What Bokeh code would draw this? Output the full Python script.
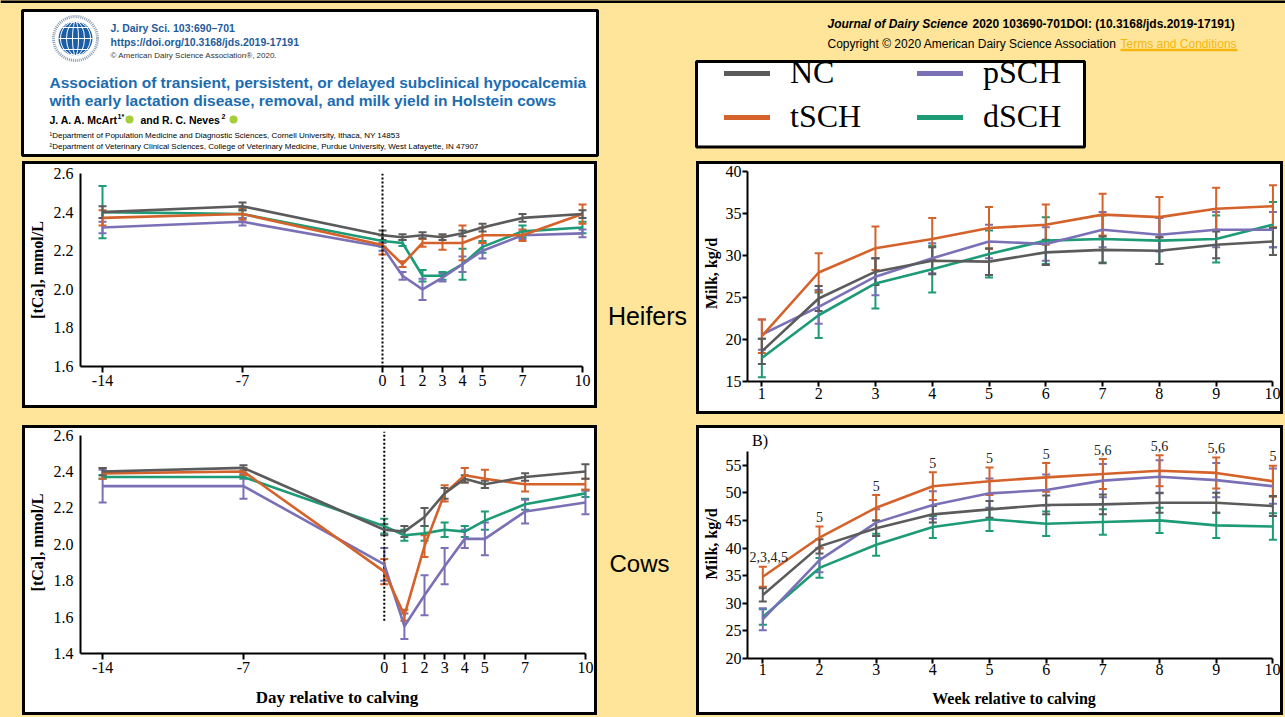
import numpy as np
from bokeh.plotting import figure
from bokeh.models import (ColumnDataSource, Whisker, TeeHead, Label, Legend, LegendItem,
                          FixedTicker, PrintfTickFormatter, Span, Spacer)
from bokeh.layouts import column, row
from bokeh.core.properties import value
from bokeh.embed import file_html
from bokeh.resources import INLINE

# ---------------- data ----------------
series_names = ["NC", "tSCH", "pSCH", "dSCH"]
series_colors = ["#5b5b5b", "#d4622a", "#7a70b6", "#1d9a76"]

days = [-14, -7, 0, 1, 2, 3, 4, 5, 7, 10]
weeks = [1, 2, 3, 4, 5, 6, 7, 8, 9, 10]
calving_day = 0

ca_ticks_heifers = [1.6, 1.8, 2.0, 2.2, 2.4, 2.6]
ca_ticks_cows = [1.4, 1.6, 1.8, 2.0, 2.2, 2.4, 2.6]
milk_ticks_heifers = [15, 20, 25, 30, 35, 40]
milk_ticks_cows = [20, 25, 30, 35, 40, 45, 50, 55]

# Heifers, total calcium (mmol/L)
heifer_ca_nc = [2.40, 2.43, 2.28, 2.27, 2.28, 2.27, 2.29, 2.32, 2.37, 2.39]
heifer_ca_nc_se = [0.03, 0.02, 0.025, 0.015, 0.015, 0.015, 0.015, 0.02, 0.02, 0.02]
heifer_ca_t = [2.37, 2.39, 2.23, 2.13, 2.24, 2.24, 2.24, 2.28, 2.28, 2.39]
heifer_ca_t_se = [0.04, 0.03, 0.05, 0.015, 0.02, 0.035, 0.09, 0.04, 0.03, 0.05]
heifer_ca_p = [2.32, 2.35, 2.22, 2.07, 2.00, 2.06, 2.13, 2.20, 2.28, 2.29]
heifer_ca_p_se = [0.03, 0.02, 0.02, 0.02, 0.055, 0.02, 0.04, 0.04, 0.02, 0.02]
heifer_ca_d = [2.40, 2.39, 2.25, 2.24, 2.07, 2.07, 2.13, 2.22, 2.30, 2.32]
heifer_ca_d_se = [0.135, 0.02, 0.03, 0.015, 0.03, 0.02, 0.08, 0.03, 0.03, 0.03]

# Cows, total calcium (mmol/L)
cow_ca_nc = [2.40, 2.42, 2.08, 2.07, 2.15, 2.28, 2.36, 2.33, 2.37, 2.40]
cow_ca_nc_se = [0.02, 0.015, 0.03, 0.03, 0.05, 0.03, 0.02, 0.02, 0.02, 0.04]
cow_ca_t = [2.39, 2.40, 1.85, 1.61, 1.99, 2.28, 2.38, 2.36, 2.33, 2.33]
cow_ca_t_se = [0.03, 0.02, 0.07, 0.03, 0.06, 0.045, 0.04, 0.05, 0.04, 0.03]
cow_ca_p = [2.32, 2.32, 1.89, 1.55, 1.72, 1.88, 2.03, 2.03, 2.18, 2.23]
cow_ca_p_se = [0.09, 0.07, 0.09, 0.07, 0.11, 0.10, 0.05, 0.09, 0.065, 0.065]
cow_ca_d = [2.37, 2.37, 2.10, 2.05, 2.06, 2.08, 2.07, 2.13, 2.22, 2.28]
cow_ca_d_se = [0.01, 0.01, 0.04, 0.03, 0.04, 0.04, 0.03, 0.05, 0.03, 0.02]
cow_dotted_low = 1.58

# Heifers, milk (kg/d)
heifer_milk_nc = [18.6, 24.9, 28.1, 29.4, 29.3, 30.4, 30.7, 30.6, 31.3, 31.7]
heifer_milk_nc_se = [1.5, 1.5, 1.6, 1.6, 1.6, 1.5, 1.6, 1.6, 1.6, 1.6]
heifer_milk_t = [20.4, 28.0, 30.9, 32.0, 33.3, 33.7, 34.9, 34.6, 35.6, 35.9]
heifer_milk_t_se = [2.0, 2.3, 2.6, 2.5, 2.5, 2.4, 2.5, 2.4, 2.5, 2.5]
heifer_milk_p = [20.6, 23.9, 27.5, 29.7, 31.7, 31.4, 33.1, 32.5, 33.1, 33.1]
heifer_milk_p_se = [1.8, 2.0, 2.2, 1.8, 2.0, 2.0, 2.1, 2.0, 2.1, 2.1]
heifer_milk_d = [17.8, 22.9, 26.7, 28.4, 30.2, 31.8, 32.0, 31.8, 32.0, 33.7]
heifer_milk_d_se = [2.3, 2.7, 3.0, 2.8, 2.8, 2.8, 2.8, 2.8, 2.8, 2.7]

# Cows, milk (kg/d)
cow_milk_nc = [31.5, 40.3, 43.6, 46.1, 47.0, 47.8, 47.9, 48.2, 48.2, 47.6]
cow_milk_nc_se = [1.2, 1.3, 1.4, 1.5, 1.5, 1.7, 1.8, 1.8, 1.8, 1.8]
cow_milk_t = [34.8, 41.9, 47.3, 51.2, 52.1, 52.8, 53.4, 54.0, 53.6, 52.1]
cow_milk_t_se = [1.8, 2.0, 2.3, 2.5, 2.5, 2.6, 2.7, 2.8, 2.8, 2.8]
cow_milk_p = [27.1, 37.8, 44.6, 47.8, 49.9, 50.5, 52.2, 52.9, 52.3, 51.2]
cow_milk_p_se = [2.0, 2.2, 2.4, 2.5, 2.7, 2.8, 3.0, 3.0, 3.1, 3.2]
cow_milk_d = [27.5, 36.4, 40.6, 43.8, 45.2, 44.4, 44.7, 45.0, 44.1, 43.9]
cow_milk_d_se = [1.4, 1.8, 2.0, 2.0, 2.1, 2.2, 2.3, 2.3, 2.3, 2.4]
cow_milk_sig = ["2,3,4,5", "5", "5", "5", "5", "5", "5,6", "5,6", "5,6", "5"]

# ---------------- style ----------------
BG = "#FEE599"
SERIF = "Liberation Serif"
SANS = "Liberation Sans"
BLUE = "#1c6db0"


def make_fig(width, height, xr, yr, borders, bg="white", axes=True):
    l, r, t, b = borders
    kw = {} if axes else dict(x_axis_type=None, y_axis_type=None)
    p = figure(width=width, height=height, x_range=xr, y_range=yr, title=None,
               output_backend="svg", toolbar_location=None,
               min_border_left=l, min_border_right=r, min_border_top=t, min_border_bottom=b,
               background_fill_color=bg, border_fill_color=bg, outline_line_color=None, **kw)
    p.grid.visible = False
    return p


def boxed(fig):
    return column(fig, styles={"border": "3px solid #000000", "background-color": "white"})


def style_axis(ax, ticks, fmt=None, tick_out=6, standoff=2, fs="16px", title=None,
               title_fs="17px", title_standoff=8, bounds=None):
    ax.ticker = FixedTicker(ticks=ticks)
    if fmt:
        ax.formatter = PrintfTickFormatter(format=fmt)
    ax.axis_line_color = "black"
    ax.axis_line_width = 2
    ax.major_tick_line_color = "black" if tick_out else None
    ax.major_tick_line_width = 2
    ax.major_tick_in = 0
    ax.major_tick_out = tick_out
    ax.minor_tick_line_color = None
    ax.major_label_standoff = standoff
    ax.major_label_text_font = SERIF
    ax.major_label_text_font_size = fs
    ax.major_label_text_color = "black"
    if title:
        ax.axis_label = title
        ax.axis_label_text_font = SERIF
        ax.axis_label_text_font_style = "bold"
        ax.axis_label_text_font_size = title_fs
        ax.axis_label_text_color = "black"
        ax.axis_label_standoff = title_standoff
    else:
        ax.axis_label = None
    if bounds:
        ax.bounds = bounds


def draw_series(p, x, vals, errs, color, cap=8):
    v = np.array(vals, dtype=float)
    e = np.array(errs, dtype=float)
    src = ColumnDataSource(dict(x=x, y=v, upper=v + e, lower=v - e))
    w = Whisker(source=src, base="x", upper="upper", lower="lower",
                line_color=color, line_width=2,
                upper_head=TeeHead(size=cap, line_color=color, line_width=2),
                lower_head=TeeHead(size=cap, line_color=color, line_width=2))
    p.add_layout(w)
    p.line("x", "y", source=src, line_color=color, line_width=2.6, line_join="round")
    return src


def lab(fig, x, y, text, size, color="black", style="normal", font=SANS, align="left"):
    fig.add_layout(Label(x=x, y=y, text=text, text_font=font, text_font_size=size,
                         text_color=color, text_font_style=style, text_baseline="middle",
                         text_align=align))


# ---------------- top banner ----------------
top = make_fig(1285, 161, (0, 1285), (161, 0), (0, 0, 0, 0), bg=BG, axes=False)
top.segment(x0=[0], x1=[1285], y0=[1], y1=[1], line_color="black", line_width=3)
top.quad(left=[22], right=[597], top=[10], bottom=[155], fill_color="white",
         line_color="black", line_width=3)
# society logo (globe)
top.circle(x=[75], y=[38], radius=22, fill_color=None, line_color="#8c9bb0",
           line_width=3, line_dash="1 1")
top.circle(x=[75], y=[38], radius=17, fill_color="#1b5ea6", line_color=None)
top.ellipse(x=[75, 75, 75], y=[38, 38, 38], width=[6, 18, 30], height=[34, 34, 34],
            fill_color=None, line_color="white", line_width=1)
glat = np.array([-11.0, 0.0, 11.0])
ghalf = np.sqrt(17.0 ** 2 - glat ** 2)
top.segment(x0=75 - ghalf, x1=75 + ghalf, y0=38 + glat, y1=38 + glat,
            line_color="white", line_width=1)

lab(top, 110, 27, "J. Dairy Sci. 103:690–701", "10.5px", "#1f5b9a", "bold")
lab(top, 110, 41, "https://doi.org/10.3168/jds.2019-17191", "10.5px", "#1f5b9a", "bold")
lab(top, 110, 55, "© American Dairy Science Association®, 2020.", "8px", "#333333")
lab(top, 49, 82, "Association of transient, persistent, or delayed subclinical hypocalcemia",
    "15.5px", BLUE, "bold")
lab(top, 49, 100, "with early lactation disease, removal, and milk yield in Holstein cows",
    "15.5px", BLUE, "bold")
lab(top, 49, 119, "J. A. A. McArt", "10.5px", "black", "bold")
lab(top, 117, 116, "1*", "7px", "black", "bold")
lab(top, 140, 119, "and R. C. Neves", "10.5px", "black", "bold")
lab(top, 221, 116, "2", "7px", "black", "bold")
top.circle(x=[129, 233], y=[119, 119], radius=4, fill_color="#a6ce39", line_color=None)
lab(top, 49, 135, "¹Department of Population Medicine and Diagnostic Sciences, Cornell University, Ithaca, NY 14853", "8px")
lab(top, 49, 146, "²Department of Veterinary Clinical Sciences, College of Veterinary Medicine, Purdue University, West Lafayette, IN 47907", "8px")

lab(top, 827, 23, "Journal of Dairy Science", "12px", "black", "bold italic")
lab(top, 972, 23, "2020 103690-701DOI: (10.3168/jds.2019-17191)", "12px", "black", "bold")
lab(top, 827, 43.5, "Copyright © 2020 American Dairy Science Association", "12px")
lab(top, 1120, 43.5, "Terms and Conditions", "12px", "#F5B70F")
top.segment(x0=[1120], x1=[1237], y0=[49.5], y1=[49.5], line_color="#F5B70F", line_width=2.5)

# legend box
top.quad(left=[696], right=[1084], top=[61], bottom=[146.5], fill_color="white",
         line_color="black", line_width=3)
dummies = [top.line(x=np.array([np.nan]), y=np.array([np.nan]), line_color=c,
                    line_width=5, line_cap="round")
           for c in series_colors]
for names, idx, xloc in ((["NC", "tSCH"], [0, 1], 724), (["pSCH", "dSCH"], [2, 3], 917)):
    leg = Legend(items=[LegendItem(label=n, renderers=[dummies[i]]) for n, i in zip(names, idx)],
                 location=(xloc, 26), orientation="vertical",
                 label_text_font=SERIF, label_text_font_size="32px", label_text_color="black",
                 glyph_width=46, glyph_height=20, label_standoff=20, spacing=7,
                 padding=0, margin=0, border_line_color=None, background_fill_alpha=0)
    top.add_layout(leg)

# ---------------- panels ----------------
heifer_ca = [(heifer_ca_nc, heifer_ca_nc_se), (heifer_ca_t, heifer_ca_t_se),
             (heifer_ca_p, heifer_ca_p_se), (heifer_ca_d, heifer_ca_d_se)]
cow_ca = [(cow_ca_nc, cow_ca_nc_se), (cow_ca_t, cow_ca_t_se),
          (cow_ca_p, cow_ca_p_se), (cow_ca_d, cow_ca_d_se)]
heifer_milk = [(heifer_milk_nc, heifer_milk_nc_se), (heifer_milk_t, heifer_milk_t_se),
               (heifer_milk_p, heifer_milk_p_se), (heifer_milk_d, heifer_milk_d_se)]
cow_milk = [(cow_milk_nc, cow_milk_nc_se), (cow_milk_t, cow_milk_t_se),
            (cow_milk_p, cow_milk_p_se), (cow_milk_d, cow_milk_d_se)]
draw_order = [3, 2, 1, 0]

# Panel 1: heifers tCa
p1 = make_fig(569, 241, (-15.1, 10.4), (1.6, 2.6), (55, 4, 9, 39))
style_axis(p1.xaxis[0], days, fmt="%d", tick_out=6, standoff=2, bounds=(-15.1, 10))
style_axis(p1.yaxis[0], ca_ticks_heifers, fmt="%.1f", tick_out=0, standoff=7,
           title="[tCa], mmol/L", title_fs="16px", title_standoff=5, bounds=(1.6, 2.6))
p1.add_layout(Span(location=calving_day, dimension="height", line_color="black",
                   line_width=2, line_dash="2 2"))
for i in draw_order:
    draw_series(p1, days, heifer_ca[i][0], heifer_ca[i][1], series_colors[i])

# Panel 2: heifers milk
p2 = make_fig(581, 247, (0.747, 10.133), (15, 40.76), (46, 0, 1, 30))
style_axis(p2.xaxis[0], weeks, tick_out=5, standoff=1, bounds=(0.747, 10))
style_axis(p2.yaxis[0], milk_ticks_heifers, fmt="%d", tick_out=5, standoff=1,
           title="Milk, kg/d", title_fs="16px", title_standoff=3, bounds=(15, 40))
for i in draw_order:
    draw_series(p2, weeks, heifer_milk[i][0], heifer_milk[i][1], series_colors[i])

# Panel 3: cows tCa
p3 = make_fig(569, 284, (-15.1, 10.4), (1.4, 2.62), (55, 1, 3, 59))
style_axis(p3.xaxis[0], days, fmt="%d", tick_out=6, standoff=2, bounds=(-15.1, 10),
           title="Day relative to calving", title_standoff=12)
style_axis(p3.yaxis[0], ca_ticks_cows, fmt="%.1f", tick_out=0, standoff=7,
           title="[tCa], mmol/L", title_fs="16px", title_standoff=5, bounds=(1.4, 2.6))
p3.segment(x0=[calving_day], x1=[calving_day], y0=[cow_dotted_low], y1=[2.62],
           line_color="black", line_width=2, line_dash="2 2")
for i in draw_order:
    draw_series(p3, days, cow_ca[i][0], cow_ca[i][1], series_colors[i])

# Panel 4: cows milk
p4 = make_fig(581, 284, (0.730, 10.134), (20, 61.46), (45, 0, 1, 54))
style_axis(p4.xaxis[0], weeks, tick_out=5, standoff=0, bounds=(0.730, 10),
           title="Week relative to calving", title_fs="16px", title_standoff=12)
style_axis(p4.yaxis[0], milk_ticks_cows, fmt="%d", tick_out=5, standoff=1,
           title="Milk, kg/d", title_fs="16px", title_standoff=3, bounds=(20, 57.4))
uppers = []
for i in draw_order:
    s = draw_series(p4, weeks, cow_milk[i][0], cow_milk[i][1], series_colors[i])
    uppers.append(np.array(s.data["upper"]))
sig_y = np.max(np.vstack(uppers), axis=0) + 1.7
sig_dx = [6, 0, 0, 0, 0, 0, 0, 0, 0, 0]
p4.text(x=weeks, y=sig_y, text=cow_milk_sig, x_offset=sig_dx, text_font=value(SERIF),
        text_font_size="14px", text_align="center", text_baseline="middle",
        text_color="#222222")
p4.add_layout(Label(x=0.95, y=59.5, text="B)", text_font=SERIF, text_font_size="16px",
                    text_align="center", text_baseline="middle", text_color="black"))

# middle labels
mid1 = make_fig(99, 253, (597, 696), (414, 161), (0, 0, 0, 0), bg=BG, axes=False)
lab(mid1, 647, 315, "Heifers", "25px", align="center")
mid2 = make_fig(99, 290, (597, 696), (715, 425), (0, 0, 0, 0), bg=BG, axes=False)
lab(mid2, 639, 563, "Cows", "24px", align="center")

row2 = row(Spacer(width=22, height=253), boxed(p1), mid1, boxed(p2))
row3 = row(Spacer(width=22, height=290), boxed(p3), mid2, boxed(p4))
root = column(top, row2, Spacer(width=1283, height=11), row3)

PAGE_TEMPLATE = """{% block preamble %}<style>html, body { background-color: #FEE599; }</style>{% endblock %}"""
open("out.html", "w").write(file_html(root, INLINE, title="JDS hypocalcemia", template=PAGE_TEMPLATE))
